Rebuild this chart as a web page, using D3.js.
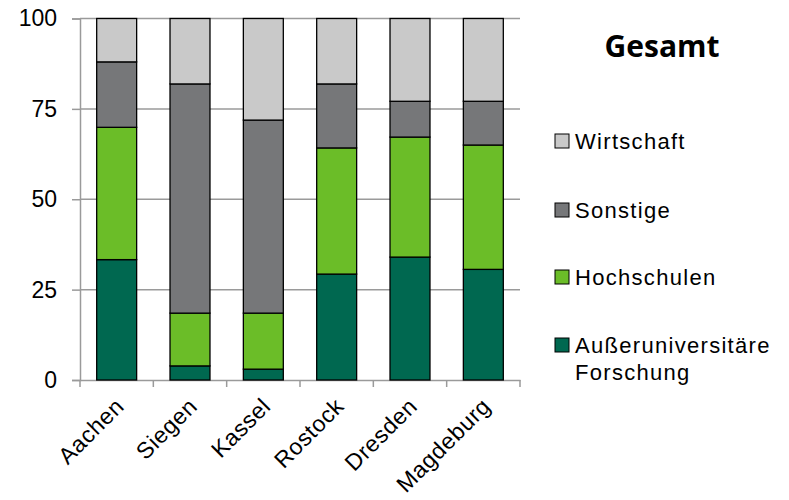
<!DOCTYPE html>
<html><head><meta charset="utf-8">
<script src="https://cdn.jsdelivr.net/npm/d3@7"></script>
<style>body{margin:0;background:#fff}svg{display:block}</style>
</head><body>
<svg id="c" width="789" height="500"></svg>
<script>
const categories = ["Aachen","Siegen","Kassel","Rostock","Dresden","Magdeburg"];
const seriesNames = ["Außeruniversitäre Forschung","Hochschulen","Sonstige","Wirtschaft"];
const ausseruniversitaere = [33.3, 3.9, 3.0, 29.3, 34.0, 30.6];
const hochschulen = [36.6, 14.6, 15.5, 34.9, 33.2, 34.4];
const sonstige = [18.1, 63.4, 53.4, 17.7, 9.9, 12.1];
const wirtschaft = [12.0, 18.1, 28.1, 18.1, 22.9, 22.9];
const yTicks = [0, 25, 50, 75, 100];
const colors = ["#006850", "#6bbd28", "#767779", "#c9c9c9"];

const svg = d3.select("#c");
const font = "'Liberation Sans', Arial, sans-serif";
const x = d3.scaleBand().domain(categories).range([80, 520]).paddingInner(0.455).paddingOuter(0.2275);
const xTick = d3.scaleBand().domain(categories).range([80, 520]);
const y = d3.scaleLinear().domain([0, 100]).range([380, 18.5]);

// gridlines
svg.append("g").selectAll("line").data(yTicks.filter(d => d > 0)).join("line")
  .attr("x1", 80).attr("x2", 520).attr("y1", d => y(d)).attr("y2", d => y(d))
  .attr("stroke", "#9a9a9a").attr("stroke-width", 1.5);

// y axis
const ya = svg.append("g").attr("transform", "translate(80,0)")
  .call(d3.axisLeft(y).tickValues(yTicks).tickSize(8).tickPadding(15));
ya.select(".domain").attr("stroke", "#9a9a9a").attr("stroke-width", 1.5);
ya.selectAll(".tick line").attr("stroke", "#9a9a9a").attr("stroke-width", 1.5);
ya.selectAll("text").attr("font-family", font).attr("font-size", 23).attr("fill", "#000");

// x axis
const xa = svg.append("g").attr("transform", "translate(0,380)")
  .call(d3.axisBottom(xTick).tickSize(0).tickFormat(""));
xa.select(".domain").attr("stroke", "#9a9a9a").attr("stroke-width", 1.5);
const bounds = d3.range(categories.length + 1).map(i => 80 + i * xTick.step());
svg.append("g").selectAll("line").data(bounds).join("line")
  .attr("x1", d => d).attr("x2", d => d).attr("y1", 380).attr("y2", 387)
  .attr("stroke", "#9a9a9a").attr("stroke-width", 1.5);
svg.append("g").selectAll("text").data(categories).join("text")
  .attr("transform", d => `translate(${xTick(d) + xTick.bandwidth()/2 + 3},402) rotate(-45)`)
  .attr("text-anchor", "end").attr("dy", "0.35em")
  .attr("font-family", font).attr("font-size", 23).attr("letter-spacing", 0.6).text(d => d);

// stacked bars
const seriesData = [ausseruniversitaere, hochschulen, sonstige, wirtschaft];
const rows = categories.map((c, i) => { const o = {cat: c}; seriesNames.forEach((s, j) => o[s] = seriesData[j][i]); return o; });
const stack = d3.stack().keys(seriesNames)(rows);
svg.append("g").selectAll("g").data(stack).join("g")
  .attr("fill", (d, i) => colors[i])
  .selectAll("rect").data(d => d).join("rect")
  .attr("x", d => x(d.data.cat)).attr("width", x.bandwidth())
  .attr("y", d => y(d[1])).attr("height", d => y(d[0]) - y(d[1]))
  .attr("stroke", "#000").attr("stroke-width", 1.3);

// title
svg.append("text").attr("x", 662).attr("y", 57).attr("text-anchor", "middle")
  .attr("font-family", "'Open Sans', 'Noto Sans', sans-serif").attr("font-weight", "bold")
  .attr("font-size", 30).text("Gesamt");

// legend
const legendItems = [
  {i: 3, lines: ["Wirtschaft"], cy: 141},
  {i: 2, lines: ["Sonstige"], cy: 210},
  {i: 1, lines: ["Hochschulen"], cy: 277},
  {i: 0, lines: ["Außeruniversitäre", "Forschung"], cy: 345}
];
const lg = svg.append("g").selectAll("g").data(legendItems).join("g");
lg.append("rect").attr("x", 555).attr("y", d => d.cy - 7).attr("width", 14).attr("height", 14)
  .attr("fill", d => colors[d.i]).attr("stroke", "#000").attr("stroke-width", 1);
lg.each(function(d) {
  d3.select(this).selectAll("text").data(d.lines).join("text")
    .attr("x", 575).attr("y", (t, k) => d.cy + k * 27).attr("dy", "0.35em")
    .attr("font-family", font).attr("font-size", 22).attr("letter-spacing", 1.3).text(t => t);
});
</script>
</body></html>
